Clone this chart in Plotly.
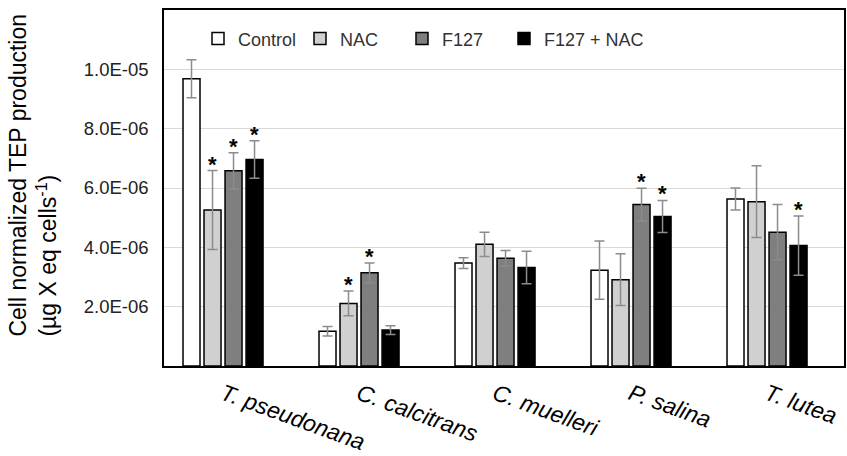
import plotly.graph_objects as go

species = ["T. pseudonana", "C. calcitrans", "C. muelleri", "P. salina", "T. lutea"]
series_names = ["Control", "NAC", "F127", "F127 + NAC"]

control = [9.68e-6, 1.17e-6, 3.47e-6, 3.23e-6, 5.63e-6]
nac = [5.26e-6, 2.11e-6, 4.10e-6, 2.91e-6, 5.54e-6]
f127 = [6.58e-6, 3.14e-6, 3.63e-6, 5.44e-6, 4.51e-6]
f127_nac = [6.96e-6, 1.21e-6, 3.32e-6, 5.04e-6, 4.06e-6]

control_err = [0.64e-6, 0.16e-6, 0.18e-6, 0.98e-6, 0.37e-6]
nac_err = [1.33e-6, 0.42e-6, 0.41e-6, 0.87e-6, 1.21e-6]
f127_err = [0.61e-6, 0.33e-6, 0.26e-6, 0.55e-6, 0.93e-6]
f127_nac_err = [0.63e-6, 0.15e-6, 0.55e-6, 0.54e-6, 1.00e-6]

# significance flags (asterisks)
control_sig = [0, 0, 0, 0, 0]
nac_sig = [1, 1, 0, 0, 0]
f127_sig = [1, 1, 0, 1, 0]
f127_nac_sig = [1, 0, 0, 1, 1]

y_tickvals = [2e-6, 4e-6, 6e-6, 8e-6, 1e-5]
y_ticktext = ["2.0E-06", "4.0E-06", "6.0E-06", "8.0E-06", "1.0E-05"]

values = [control, nac, f127, f127_nac]
errors = [control_err, nac_err, f127_err, f127_nac_err]
sigs = [control_sig, nac_sig, f127_sig, f127_nac_sig]
fills = ["#ffffff", "#d0d0d0", "#7f7f7f", "#000000"]
legend_widths = [57, 57, 57, 130]

pitch = 0.1545
bar_w = 0.125
shift = -0.066

fig = go.Figure()
annotations = []
for j, name in enumerate(series_names):
    xs = [i + shift + (j - 1.5) * pitch for i in range(len(species))]
    fig.add_trace(go.Bar(
        x=xs, y=values[j], name=name, width=bar_w, legendwidth=legend_widths[j],
        marker=dict(color=fills[j], line=dict(color="#000000", width=1.5)),
        error_y=dict(type="data", array=errors[j], symmetric=True,
                     color="#8c8c8c", thickness=1.5, width=5),
    ))
    for i in range(len(species)):
        if sigs[j][i]:
            annotations.append(dict(
                x=xs[i], y=values[j][i] + errors[j][i], xref="x", yref="y",
                text="<b>*</b>", showarrow=False, yanchor="bottom", yshift=-8,
                font=dict(size=22, color="#000000", family="Arial, Liberation Sans"),
            ))

annotations.append(dict(
    x=0, xref="paper", xanchor="left", xshift=-161,
    y=0.535, yref="paper", yanchor="middle",
    text="Cell normalized TEP production<br>(µg X eq cells<sup>-1</sup>)",
    textangle=-90, align="left", showarrow=False,
    font=dict(size=23, color="#000000", family="Arial, Liberation Sans"),
))

fig.update_layout(
    width=847, height=456,
    margin=dict(l=164, r=1, t=10, b=89),
    paper_bgcolor="white", plot_bgcolor="white",
    font=dict(family="Arial, Liberation Sans", color="#222222"),
    barmode="overlay",
    showlegend=True,
    legend=dict(orientation="h", x=0.05, xanchor="left", y=0.919, yanchor="middle",
                font=dict(size=18, color="#333333"), bgcolor="rgba(0,0,0,0)",
                entrywidthmode="pixels", traceorder="normal"),
    annotations=annotations,
    xaxis=dict(range=[-0.5, 4.5], tickvals=[i + shift for i in range(len(species))], ticktext=species,
               tickangle=20, tickfont=dict(size=23, family="Arial, Liberation Sans", style="italic", color="#000000"),
               ticklabeloverflow="allow", ticklabelstandoff=4,
               showgrid=False, zeroline=False, showline=True, linecolor="#000000", linewidth=1.5,
               mirror=True, ticks=""),
    yaxis=dict(range=[0, 1.2e-5], tickvals=y_tickvals, ticktext=y_ticktext,
               tickfont=dict(size=18.5, color="#222222"),
               showgrid=True, gridcolor="#d9d9d9", gridwidth=1, zeroline=False,
               showline=True, linecolor="#000000", linewidth=1.5, mirror=True, ticks="",
               ticklabelstandoff=10),
)

fig.write_html("out.html")
